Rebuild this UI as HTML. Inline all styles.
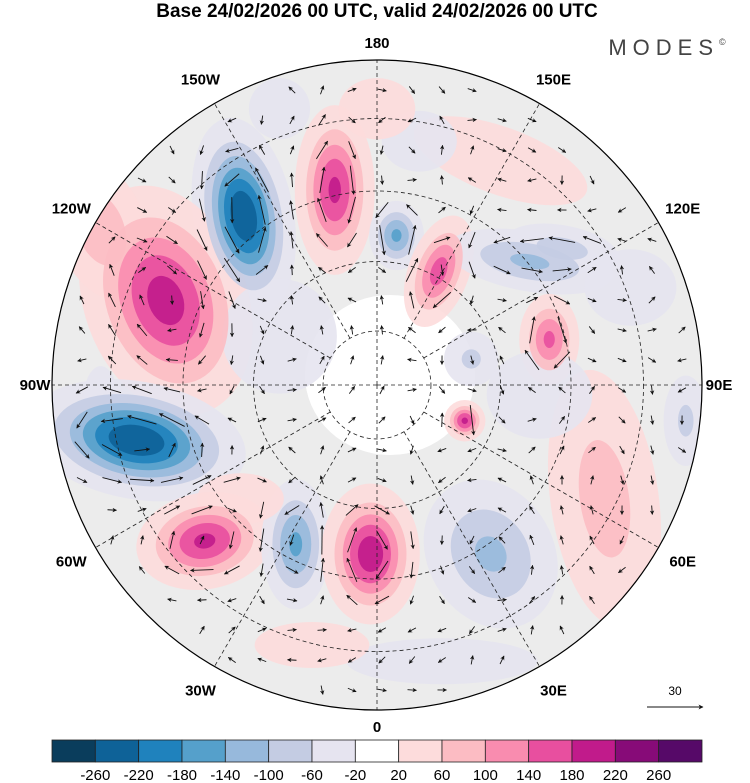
<!DOCTYPE html>
<html><head><meta charset="utf-8">
<style>
html,body{margin:0;padding:0;background:#fff;}
svg{display:block;font-family:"Liberation Sans",sans-serif;}
</style></head>
<body>
<svg id="chart" width="750" height="783" viewBox="0 0 750 783">
  <defs>
    <clipPath id="disk"><circle cx="377" cy="385" r="325"/></clipPath>
    <marker id="ah" viewBox="0 0 10 10" refX="9" refY="5" markerWidth="5" markerHeight="5" orient="auto">
      <path d="M0,0 L10,5 L0,10 L3,5 Z" fill="#111"/>
    </marker>
  </defs>
  <text x="377" y="17" text-anchor="middle" font-size="19" font-weight="bold">Base 24/02/2026 00 UTC, valid 24/02/2026 00 UTC</text>
  <text x="670" y="55" text-anchor="middle" font-size="22" fill="#444" letter-spacing="6">MODES<tspan font-size="9" dy="-10">©</tspan></text>
  <g id="field" clip-path="url(#disk)">
    <rect x="52" y="60" width="650" height="650" fill="#ececec"/>
    <ellipse cx="390" cy="375" rx="85" ry="80" fill="#fff"/>
  </g>
  <g id="grid" clip-path="url(#disk)"></g>
  <g id="winds" clip-path="url(#disk)"></g>
  <circle cx="377" cy="385" r="325" fill="none" stroke="#000" stroke-width="1.2"/>
  <g id="lonlabels" font-size="15" font-weight="bold" text-anchor="middle"></g>
  <g>
    <text x="675" y="695" text-anchor="middle" font-size="12">30</text>
    <line x1="647" y1="707" x2="703" y2="707" stroke="#111" stroke-width="1" marker-end="url(#ah)"/>
  </g>
  <g id="cbar"></g>
</svg>
<script>
// ---- data ----
var blobX = [-0.41,-0.13,0.06,0.19,0.47,-0.65,-0.74,-0.53,-0.25,-0.02,0.35,0.27,0.53,0.29,0.70,0.95,0.38,0.13,-0.85,-0.42,0.57,-0.30,0.50,0.78,0.00,-0.30,0.20,-0.20,-0.85];
var blobY = [-0.52,-0.60,-0.46,-0.35,-0.38,-0.26,0.17,0.48,0.49,0.52,0.52,0.11,-0.14,-0.08,0.35,0.11,-0.69,-0.75,-0.48,0.35,-0.42,-0.15,0.03,-0.30,-0.85,-0.85,0.85,0.80,0.05];
var blobAmp = [-260,190,-150,160,-110,200,-260,190,-150,210,-110,190,150,-70,80,-70,60,-60,90,60,-80,-40,-50,-40,40,-40,-40,40,-30];
var blobSx = [0.068,0.058,0.042,0.046,0.14,0.117,0.15,0.1,0.053,0.07,0.105,0.03,0.046,0.053,0.1,0.043,0.19,0.078,0.08,0.09,0.105,0.15,0.12,0.12,0.10,0.08,0.25,0.15,0.06];
var blobSy = [0.135,0.123,0.053,0.088,0.05,0.17,0.08,0.07,0.1,0.1,0.13,0.03,0.07,0.053,0.24,0.088,0.07,0.063,0.13,0.053,0.043,0.15,0.10,0.10,0.08,0.08,0.06,0.06,0.12];
var blobRot = [-10,0,0,20,10,-20,10,-10,0,0,-30,0,0,0,-8,0,20,0,-20,0,10,0,0,0,0,0,0,0,0];
var cbLevels = [-260,-220,-180,-140,-100,-60,-20,20,60,100,140,180,220,260];
var cbColors = ["#0a3d5c","#0e6298","#1f82bd","#55a0cb","#97b9dc","#c4cce3","#e6e4f0","#ffffff","#fddcdc","#fcbcc3","#f98caf","#e84f9f","#c11b8b","#870b78","#560968"];
var lonNames = ["0","30E","60E","90E","120E","150E","180","150W","120W","90W","60W","30W"];
var lonDeg = [0,30,60,90,120,150,180,210,240,270,300,330];
var latRadii = [0.166,0.38,0.597,0.82];
// ---- geometry ----
var CX=377, CY=385, R=325, NS="http://www.w3.org/2000/svg";
function px(m){return CX+m*R;} function py(m){return CY+m*R;}
function mk(t,a){var e=document.createElementNS(NS,t);for(var k in a)e.setAttribute(k,a[k]);return e;}
var field=document.getElementById('field');
function colorFor(t){
  var i=cbLevels.indexOf(t);
  return t>0?cbColors[i+1]:cbColors[i];
}
var shapes=[];
for(var b=0;b<blobX.length;b++){
  var A=blobAmp[b], aa=Math.abs(A);
  var ths=[20,60,100,140,180,220,260];
  for(var j=0;j<ths.length;j++){
    var t=ths[j]; if(t>=aa) break;
    shapes.push({b:b,t:t,A:A,d:Math.sqrt(2*Math.log(aa/t))});
  }
}
shapes.sort(function(p,q){return p.t-q.t;});
shapes.forEach(function(s){
  var b=s.b;
  var e=mk('ellipse',{cx:px(blobX[b]),cy:py(blobY[b]),rx:blobSx[b]*s.d*R,ry:blobSy[b]*s.d*R,
    transform:'rotate('+blobRot[b]+' '+px(blobX[b])+' '+py(blobY[b])+')',fill:colorFor(s.A>0?s.t:-s.t),'fill-opacity':0.9});
  
  
  field.appendChild(e);
});
var grid=document.getElementById('grid');
latRadii.forEach(function(r){
  var c=mk('circle',{cx:CX,cy:CY,r:r*R,fill:'none',stroke:'#222','stroke-width':0.8,'stroke-dasharray':'4,3'});
  
  
  grid.appendChild(c);
});
lonDeg.forEach(function(L){
  var a=L*Math.PI/180, s=(L%90==0?0:latRadii[0]);
  var l=mk('line',{x1:CX+s*R*Math.sin(a),y1:CY+s*R*Math.cos(a),x2:CX+R*Math.sin(a),y2:CY+R*Math.cos(a),stroke:'#222','stroke-width':0.8,'stroke-dasharray':'4,3'});
  
  
  grid.appendChild(l);
});
var ll=document.getElementById('lonlabels');
lonDeg.forEach(function(L,i){
  var a=L*Math.PI/180, rr=(L%90==0)?R+17:R+28;
  var t=mk('text',{x:CX+rr*Math.sin(a),y:CY+rr*Math.cos(a)+5});
  t.textContent=lonNames[i];
  
  
  ll.appendChild(t);
});
function F(x,y){var s=0;for(var b=0;b<blobX.length;b++){var r=blobRot[b]*Math.PI/180,dx=x-blobX[b],dy=y-blobY[b];
  var u=(dx*Math.cos(r)+dy*Math.sin(r))/blobSx[b], v=(-dx*Math.sin(r)+dy*Math.cos(r))/blobSy[b];
  s+=blobAmp[b]*Math.exp(-(u*u+v*v)/2);}return s;}
var winds=document.getElementById('winds'), sp=30/R, h=0.004;
for(var gy=-1;gy<=1;gy+=sp){for(var gx=-1;gx<=1;gx+=sp){
  if(gx*gx+gy*gy>0.94) continue;
  var dfx=(F(gx+h,gy)-F(gx-h,gy))/(2*h), dfy=(F(gx,gy+h)-F(gx,gy-h))/(2*h);
  var vx=dfy, vy=-dfx, m=Math.sqrt(vx*vx+vy*vy);
  if(m<1) continue;
  var len=Math.max(9,Math.min(30,m*0.015));
  var x0=px(gx),y0=py(gy),ux=vx/m*len,uy=vy/m*len;
  var ln=mk('line',{x1:x0-ux/2,y1:y0-uy/2,x2:x0+ux/2,y2:y0+uy/2,stroke:'#111','stroke-width':0.9,'marker-end':'url(#ah)'});
  
  
  winds.appendChild(ln);
}}
var cb=document.getElementById('cbar'), x0=52, w=650/15;
cbColors.forEach(function(c,i){
  var r=mk('rect',{x:x0+i*w,y:740,width:w,height:22,fill:c,stroke:'#222','stroke-width':0.8});
  
  
  cb.appendChild(r);
});
cbLevels.forEach(function(v,i){
  var t=mk('text',{x:x0+(i+1)*w,y:780,'text-anchor':'middle','font-size':15});
  t.textContent=v;
  
  
  cb.appendChild(t);
});
</script>
</body></html>
